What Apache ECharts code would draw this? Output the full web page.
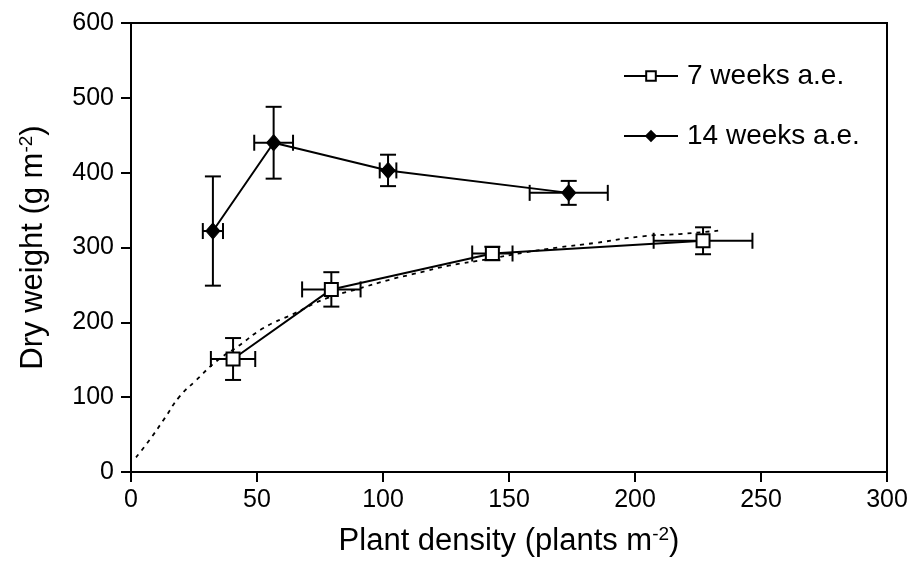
<!DOCTYPE html>
<html>
<head>
<meta charset="utf-8">
<script src="https://cdn.jsdelivr.net/npm/echarts@6/dist/echarts.min.js"></script>
<style>html,body{margin:0;padding:0;background:#fff;}#c{width:913px;height:574px;}</style>
</head>
<body>
<div id="c"></div>
<script>
// Data
const w7Name = '7 weeks a.e.';
const w14Name = '14 weeks a.e.';
const w7X = [40.5, 79.5, 143.4, 227];
const w7Y = [151, 244, 292, 309];
const w7XErr = [8.8, 11.6, 8, 19.6];
const w7YErr = [28, 23, 9, 18];
const w14X = [32.5, 56.6, 102, 173.7];
const w14Y = [322, 440, 403, 373];
const w14XErr = [4, 7.7, 3.3, 15.5];
const w14YErr = [73, 48, 21, 16];
const fitX = [2, 7.4, 13.4, 19.3, 26, 33.9, 42.5, 52.4, 64.3, 77.5, 89.4, 102.7, 112.6, 126.5, 141, 155.6, 169.4, 184, 203, 217.7, 233];
const fitY = [19.5, 43, 72, 101, 123, 148, 168, 192, 211, 232, 244, 257, 265, 276, 284, 293, 300, 306, 315, 318, 322.5];
const xTicks = {min: 0, max: 300, interval: 50};
const yTicks = {min: 0, max: 600, interval: 100};

const zip = (a, b) => a.map((v, i) => [v, b[i]]);
const errData = (xs, ys, ex, ey) => xs.map((v, i) => [v, ys[i], ex[i], ey[i]]);

const FONT = 'Liberation Sans, Arial, sans-serif';
const black = '#000';

function renderErr(params, api) {
  const x = api.value(0), y = api.value(1), ex = api.value(2), ey = api.value(3);
  const l = api.coord([x - ex, y]), r = api.coord([x + ex, y]);
  const t = api.coord([x, y + ey]), b = api.coord([x, y - ey]);
  const cap = 8;
  const st = {stroke: black, lineWidth: 2};
  const ln = (x1, y1, x2, y2) => ({type: 'line', shape: {x1, y1, x2, y2}, style: st});
  return {
    type: 'group',
    children: [
      ln(l[0], l[1], r[0], r[1]),
      ln(l[0], l[1] - cap, l[0], l[1] + cap),
      ln(r[0], r[1] - cap, r[0], r[1] + cap),
      ln(t[0], t[1], b[0], b[1]),
      ln(t[0] - cap, t[1], t[0] + cap, t[1]),
      ln(b[0] - cap, b[1], b[0] + cap, b[1])
    ]
  };
}

const rich = {
  n: {fontSize: 31, fontFamily: FONT, color: black},
  s: {fontSize: 19, fontFamily: FONT, color: black, verticalAlign: 'top', padding: [0, 0, 13, 0]}
};

const chart = echarts.init(document.getElementById('c'));
chart.setOption({
  animation: false,
  backgroundColor: '#fff',
  grid: {left: 131, right: 26, top: 23, bottom: 102, show: true, borderColor: black, borderWidth: 2, containLabel: false},
  legend: {
    orient: 'vertical',
    left: 618, top: 57,
    itemWidth: 54, itemHeight: 12, itemGap: 32,
    data: [w7Name, w14Name],
    textStyle: {fontSize: 28, fontFamily: FONT, color: black, padding: [0, 0, 0, 4]}
  },
  xAxis: {
    type: 'value', min: xTicks.min, max: xTicks.max, interval: xTicks.interval,
    axisLine: {show: true, lineStyle: {color: black, width: 2}},
    axisTick: {show: true, inside: false, length: 10, lineStyle: {color: black, width: 2}},
    axisLabel: {fontSize: 25, fontFamily: FONT, color: black, margin: 16},
    splitLine: {show: false},
    name: '{n|Plant density (plants m}{s|-2}{n|)}',
    nameLocation: 'middle', nameGap: 53,
    nameTextStyle: {rich: rich}
  },
  yAxis: {
    type: 'value', min: yTicks.min, max: yTicks.max, interval: yTicks.interval,
    axisLine: {show: true, lineStyle: {color: black, width: 2}},
    axisTick: {show: true, inside: false, length: 10, lineStyle: {color: black, width: 2}},
    axisLabel: {fontSize: 25, fontFamily: FONT, color: black, margin: 17},
    splitLine: {show: false},
    name: '{n|Dry weight (g m}{s|-2}{n|)}',
    nameLocation: 'middle', nameGap: 82,
    nameTextStyle: {rich: rich}
  },
  series: [
    {
      name: 'fit', type: 'line', data: zip(fitX, fitY), smooth: true, showSymbol: false, symbol: 'none',
      lineStyle: {color: black, width: 1.8, type: [4, 5]}, z: 1, silent: true
    },
    {
      name: 'err7', type: 'custom', data: errData(w7X, w7Y, w7XErr, w7YErr), renderItem: renderErr, z: 2
    },
    {
      name: 'err14', type: 'custom', data: errData(w14X, w14Y, w14XErr, w14YErr), renderItem: renderErr, z: 2
    },
    {
      name: w7Name, type: 'line', data: zip(w7X, w7Y),
      symbol: 'rect', symbolSize: 13, showAllSymbol: true,
      itemStyle: {color: '#fff', borderColor: black, borderWidth: 2},
      lineStyle: {color: black, width: 2}, z: 5
    },
    {
      name: w14Name, type: 'line', data: zip(w14X, w14Y),
      symbol: 'diamond', symbolSize: [14, 16], showAllSymbol: true,
      itemStyle: {color: black, borderColor: black, borderWidth: 1},
      lineStyle: {color: black, width: 2}, z: 5
    }
  ]
});
</script>
</body>
</html>
